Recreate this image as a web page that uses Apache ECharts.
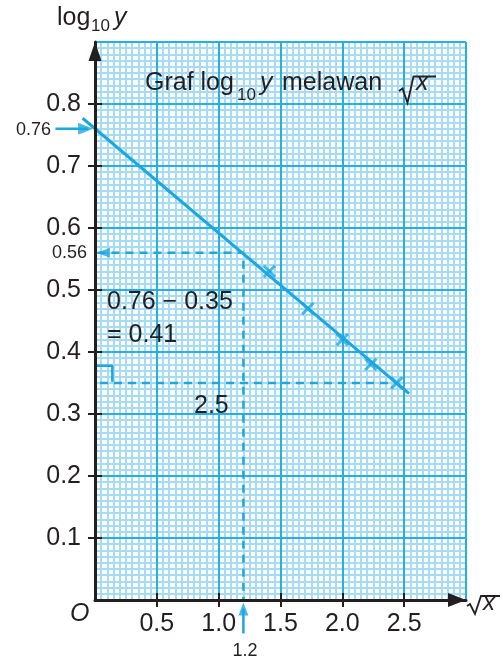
<!DOCTYPE html>
<html><head><meta charset="utf-8">
<script src="https://cdn.jsdelivr.net/npm/echarts@6/dist/echarts.min.js"></script>
<style>html,body{margin:0;padding:0;background:#fff}#c{width:503px;height:659px}</style>
</head><body><div id="c"></div>
<script>
// ---- data ----
const sqrtX = [1.41, 1.72, 2.00, 2.23, 2.44];
const log10Y = [0.53, 0.47, 0.42, 0.38, 0.35];
const fitLineX = [-0.10, 2.54];
const fitLineY = [0.777, 0.333];
const xTickValues = [0.5, 1.0, 1.5, 2.0, 2.5];
const yTickValues = [0.1, 0.2, 0.3, 0.4, 0.5, 0.6, 0.7, 0.8];
const interceptValue = 0.76;
const interceptArrowX = [-0.32, -0.015];
const readX = 1.2;
const readY = 0.56;
const readDashStartX = 0.02;
const readArrowY = [-0.054, -0.004];
const lowY = 0.35;
const lowDashX = [0.04, 2.44];
const bracketX = [0, 0.14, 0.14];
const bracketY = [0.378, 0.378, 0.352];

const INK = '#231f20';
const CYAN = '#1ba8e0';
const MAJOR = '#22b0e8';
const MINOR = '#a6dbf4';
const FF = "'Liberation Sans', Arial, sans-serif";
const X_MIN = 0, X_MAX = 3, X_INT = 0.5;
const Y_MIN = 0, Y_MAX = 0.9, Y_INT = 0.1;

const off = { show: false };
function baseAxis(min, max, interval, position) {
  return { type: 'value', min, max, interval, position,
    axisLine: { show: false, onZero: false }, axisTick: off, axisLabel: off,
    splitLine: off, minorTick: { show: false, splitNumber: 10 }, minorSplitLine: off };
}
function minorAxis(min, max, interval, position) {
  const a = baseAxis(min, max, interval, position);
  a.minorSplitLine = { show: true, lineStyle: { color: MINOR, width: 2 } };
  a.z = 0; return a;
}
function majorAxis(min, max, interval, position) {
  const a = baseAxis(min, max, interval, position);
  a.splitLine = { show: true, lineStyle: { color: MAJOR, width: 2 } };
  a.z = 1; return a;
}
function tickAxis(min, max, interval, position, ticks, margin) {
  const a = baseAxis(min, max, interval, position);
  a.offset = 7;
  a.axisTick = { show: true, inside: true, length: 14, customValues: ticks, lineStyle: { color: INK, width: 2 } };
  a.axisLabel = { show: true, customValues: ticks, margin, fontSize: 25, color: INK, fontFamily: FF,
    formatter: v => (v <= min + 1e-9 || v >= max - 1e-9) ? '' : v.toFixed(1) };
  a.z = 4; return a;
}
function lineAxis(min, max, interval, position, size) {
  const a = baseAxis(min, max, interval, position);
  a.axisLine = { show: true, onZero: false, lineStyle: { color: INK, width: 3 },
    symbol: ['none', 'triangle'], symbolSize: size, symbolOffset: [0, -size[1] / 2] };
  a.z = 5; return a;
}

const pairs = (xs, ys) => xs.map((x, i) => [x, ys[i]]);
const dashed = { color: CYAN, width: 2.5, type: [8, 6] };
const solid = { color: CYAN, width: 2.5 };

// segment series drawn through the axes' scales (works outside the axis range too)
function segmentSeries(x1, y1, x2, y2, width) {
  return {
    type: 'custom', clip: false, z: 2, silent: true,
    data: [[x1, y1, x2, y2]],
    renderItem: (params, api) => {
      const p1 = api.coord([api.value(0), api.value(1)]);
      const p2 = api.coord([api.value(2), api.value(3)]);
      return { type: 'line', shape: { x1: p1[0], y1: p1[1], x2: p2[0], y2: p2[1] },
        style: { stroke: CYAN, lineWidth: width, lineCap: 'butt' } };
    }
  };
}

const option = {
  animation: false,
  backgroundColor: '#fff',
  grid: { left: 95, right: 37, top: 42, bottom: 59 },
  xAxis: [
    minorAxis(X_MIN, X_MAX, X_INT, 'bottom'),
    majorAxis(X_MIN, X_MAX, X_INT, 'bottom'),
    tickAxis(X_MIN, X_MAX, X_INT, 'bottom', xTickValues, 5),
    lineAxis(X_MIN, X_MAX, X_INT, 'bottom', [14, 18])
  ],
  yAxis: [
    minorAxis(Y_MIN, Y_MAX, Y_INT, 'left'),
    majorAxis(Y_MIN, Y_MAX, Y_INT, 'left'),
    tickAxis(Y_MIN, Y_MAX, Y_INT, 'left', yTickValues, 7),
    lineAxis(Y_MIN, Y_MAX, Y_INT, 'left', [13, 19])
  ],
  series: [
    segmentSeries(fitLineX[0], fitLineY[0], fitLineX[1], fitLineY[1], 3),
    { type: 'scatter', data: pairs(sqrtX, log10Y), symbol: 'rect', symbolSize: [3, 16],
      symbolRotate: 45, itemStyle: { color: CYAN }, z: 6 },
    { type: 'scatter', data: pairs(sqrtX, log10Y), symbol: 'rect', symbolSize: [3, 16],
      symbolRotate: -45, itemStyle: { color: CYAN }, z: 6 },
    { type: 'line', data: [[readDashStartX, readY], [readX, readY], [readX, 0]], symbol: 'none',
      lineStyle: dashed, z: 2 },
    { type: 'line', data: lowDashX.map(x => [x, lowY]), symbol: 'none', lineStyle: dashed, z: 2 },
    { type: 'line', data: pairs(bracketX, bracketY), symbol: 'none', lineStyle: solid, z: 2 },
    segmentSeries(interceptArrowX[0], interceptValue, interceptArrowX[1] - 0.04, interceptValue, 2.5),
    segmentSeries(readX, readArrowY[0], readX, readArrowY[1] - 0.01, 2.5),
    { type: 'scatter', data: [[interceptArrowX[1], interceptValue]], symbol: 'triangle',
      symbolSize: [12, 15], symbolRotate: -90, symbolOffset: [-7.5, 0], clip: false,
      itemStyle: { color: CYAN }, z: 6 },
    { type: 'scatter', data: [[readDashStartX - 0.005, readY]], symbol: 'triangle',
      symbolSize: [10, 13], symbolRotate: 90, symbolOffset: [6.5, 0], clip: false,
      itemStyle: { color: CYAN }, z: 6 },
    { type: 'scatter', data: [[readX, readArrowY[1]]], symbol: 'triangle',
      symbolSize: [10, 13], symbolRotate: 0, symbolOffset: [0, 6.5], clip: false,
      itemStyle: { color: CYAN }, z: 6 }
  ],
  graphic: [
    // y-axis name: log10 y
    { type: 'text', x: 57, y: 18.5, z: 10, style: { text: 'log', fill: INK, font: '25px ' + FF, align: 'left', verticalAlign: 'middle' } },
    { type: 'text', x: 91, y: 26, z: 10, style: { text: '10', fill: INK, font: '17px ' + FF, align: 'left', verticalAlign: 'middle' } },
    { type: 'text', x: 114, y: 18.5, z: 10, style: { text: 'y', fill: INK, font: 'italic 25px ' + FF, align: 'left', verticalAlign: 'middle' } },
    // title
    { type: 'text', x: 145, y: 83.3, z: 10, style: { text: 'Graf log', fill: INK, font: '25px ' + FF, align: 'left', verticalAlign: 'middle' } },
    { type: 'text', x: 237, y: 95, z: 10, style: { text: '10', fill: INK, font: '17px ' + FF, align: 'left', verticalAlign: 'middle' } },
    { type: 'text', x: 260, y: 83.3, z: 10, style: { text: 'y', fill: INK, font: 'italic 25px ' + FF, align: 'left', verticalAlign: 'middle' } },
    { type: 'text', x: 282, y: 83.3, z: 10, style: { text: 'melawan', fill: INK, font: '25px ' + FF, align: 'left', verticalAlign: 'middle' } },
    { type: 'polyline', z: 10, shape: { points: [[399, 91], [402.5, 88.5], [407.5, 103], [413.5, 76.5], [436, 76.5]] },
      style: { stroke: INK, lineWidth: 1.8, fill: null } },
    { type: 'text', x: 416, y: 83.3, z: 10, style: { text: 'x', fill: INK, font: 'italic 25px ' + FF, align: 'left', verticalAlign: 'middle' } },
    // x-axis name: sqrt x
    { type: 'polyline', z: 10, shape: { points: [[467, 606], [470, 604], [475, 614], [481, 596], [500, 596]] },
      style: { stroke: INK, lineWidth: 1.8, fill: null } },
    { type: 'text', x: 483, y: 603, z: 10, style: { text: 'x', fill: INK, font: 'italic 24px ' + FF, align: 'left', verticalAlign: 'middle' } },
    // origin
    { type: 'text', x: 70, y: 614, z: 10, style: { text: 'O', fill: INK, font: 'italic 25px ' + FF, align: 'left', verticalAlign: 'middle' } },
    // annotation labels
    { type: 'text', x: 51, y: 130, z: 10, style: { text: '0.76', fill: INK, font: '18px ' + FF, align: 'right', verticalAlign: 'middle' } },
    { type: 'text', x: 87, y: 253, z: 10, style: { text: '0.56', fill: INK, font: '18px ' + FF, align: 'right', verticalAlign: 'middle' } },
    { type: 'text', x: 245, y: 651, z: 10, style: { text: '1.2', fill: INK, font: '18px ' + FF, align: 'center', verticalAlign: 'middle' } },
    { type: 'text', x: 107, y: 302, z: 10, style: { text: '0.76 \u2212 0.35', fill: INK, font: '25px ' + FF, align: 'left', verticalAlign: 'middle' } },
    { type: 'text', x: 107, y: 335, z: 10, style: { text: '= 0.41', fill: INK, font: '25px ' + FF, align: 'left', verticalAlign: 'middle' } },
    { type: 'text', x: 194, y: 406, z: 10, style: { text: '2.5', fill: INK, font: '25px ' + FF, align: 'left', verticalAlign: 'middle' } }
  ]
};

const chart = echarts.init(document.getElementById('c'), null, { renderer: 'canvas' });
chart.setOption(option);
</script>
</body></html>
